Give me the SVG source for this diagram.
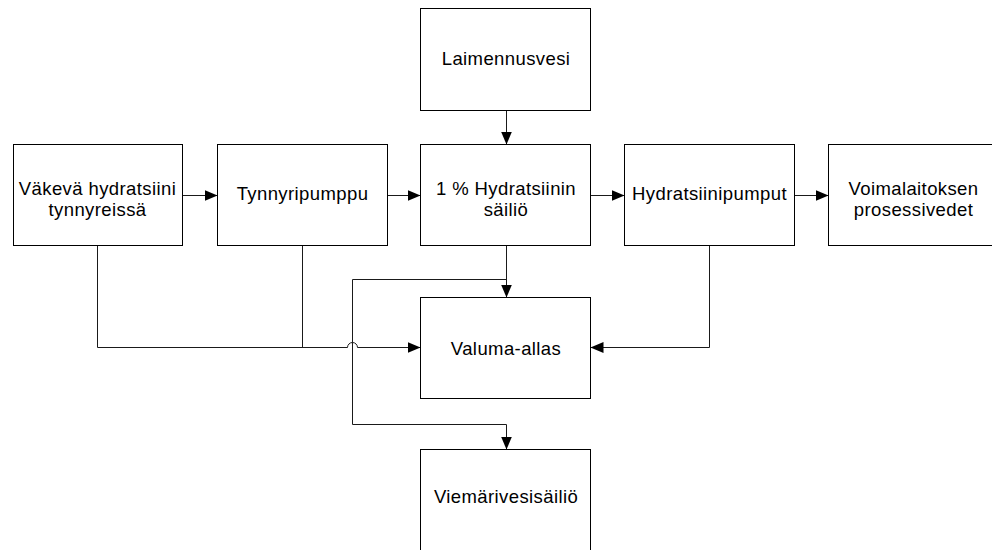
<svg xmlns="http://www.w3.org/2000/svg" width="992" height="550" viewBox="0 0 992 550">
<style>
.box{fill:#fff;stroke:#000;stroke-width:1}
.lbl{font-family:"Liberation Sans",Arial,sans-serif;font-size:18.5px;letter-spacing:0.4px;fill:#000;text-anchor:middle}
.con{fill:none;stroke:#1a1a1a;stroke-width:1}
</style>
<defs>
<marker id="arr" markerUnits="userSpaceOnUse" markerWidth="13" markerHeight="11" refX="13" refY="5.5" orient="auto">
<path d="M0,0 L13,5.5 L0,11 z" fill="#000"/>
</marker>
</defs>
<rect width="992" height="550" fill="#fff"/>
<g id="connectors">
<path class="con" d="M506.5 110.5 V144.5" marker-end="url(#arr)"/>
<path class="con" d="M182.5 195.5 H217.5" marker-end="url(#arr)"/>
<path class="con" d="M387.5 195.5 H420.5" marker-end="url(#arr)"/>
<path class="con" d="M590.5 195.5 H624.5" marker-end="url(#arr)"/>
<path class="con" d="M794.5 195.5 H828.5" marker-end="url(#arr)"/>
<path class="con" d="M97.5 245.5 V347.5 H347.5 A5 5 0 0 1 357.5 347.5 H420.5" marker-end="url(#arr)"/>
<path class="con" d="M302.5 245.5 V347.5"/>
<path class="con" d="M506.5 245.5 V297.5" marker-end="url(#arr)"/>
<path class="con" d="M506.5 279.5 H352.5 V424.5 H506.5 V449.5" marker-end="url(#arr)"/>
<path class="con" d="M709.5 245.5 V347.5 H590.5" marker-end="url(#arr)"/>
</g>
<g id="laimennusvesi">
<rect class="box" x="420.5" y="8.5" width="170" height="102"/>
<text class="lbl" x="506" y="65">Laimennusvesi</text>
</g>
<g id="vakeva">
<rect class="box" x="13.5" y="144.5" width="169" height="101"/>
<text class="lbl" x="97.5" y="195">Väkevä hydratsiini</text>
<text class="lbl" x="97.5" y="216">tynnyreissä</text>
</g>
<g id="tynnyripumppu">
<rect class="box" x="217.5" y="144.5" width="170" height="101"/>
<text class="lbl" x="302.5" y="200">Tynnyripumppu</text>
</g>
<g id="sailio">
<rect class="box" x="420.5" y="144.5" width="170" height="101"/>
<text class="lbl" x="506" y="195">1 % Hydratsiinin</text>
<text class="lbl" x="506" y="216">säiliö</text>
</g>
<g id="hydratsiinipumput">
<rect class="box" x="624.5" y="144.5" width="170" height="101"/>
<text class="lbl" x="709.5" y="200">Hydratsiinipumput</text>
</g>
<g id="voimalaitos">
<rect class="box" x="828.5" y="144.5" width="170" height="101"/>
<text class="lbl" x="913.5" y="195">Voimalaitoksen</text>
<text class="lbl" x="913.5" y="216">prosessivedet</text>
</g>
<g id="valuma">
<rect class="box" x="420.5" y="297.5" width="170" height="101"/>
<text class="lbl" x="506" y="355">Valuma-allas</text>
</g>
<g id="viemari">
<rect class="box" x="420.5" y="449.5" width="170" height="102"/>
<text class="lbl" x="506" y="503">Viemärivesisäiliö</text>
</g>
</svg>
